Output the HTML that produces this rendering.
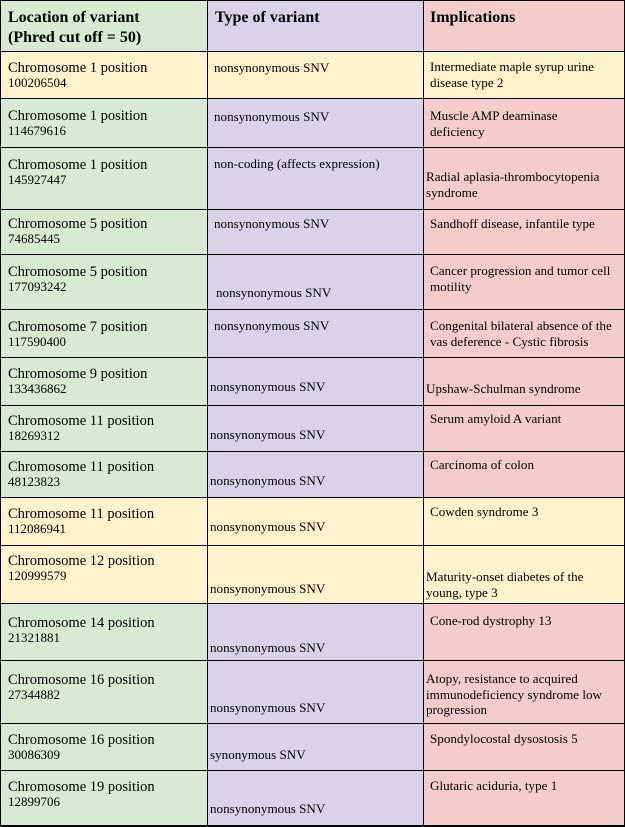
<!DOCTYPE html>
<html><head><meta charset="utf-8"><style>
body{margin:0;width:625px;height:826px;position:relative;background:#fff;font-family:"Liberation Serif",serif;color:#000;overflow:hidden}
.c{position:absolute;box-sizing:border-box;border-right:1px solid #000;border-bottom:1px solid #000}
.t{position:absolute;white-space:nowrap;line-height:16px;z-index:2}
.a{font-size:14.5px}.n{font-size:13px}.s{font-size:13.1px}.h{font-size:16px;font-weight:bold;line-height:20px}
.g{background:#d9ead3}.p{background:#d9d2e9}.r{background:#f4cccc}.y{background:#fff2cc}
</style></head><body>
<script>
const rows=[
[51,98,'y',["Chromosome 1 position","100206504",68],["nonsynonymous SNV",68,214],[["Intermediate maple syrup urine","disease type 2"],67,430]],
[98,147,'',["Chromosome 1 position","114679616",116],["nonsynonymous SNV",117,214],[["Muscle AMP deaminase","deficiency"],116,430]],
[147,209,'',["Chromosome 1 position","145927447",165],["non-coding (affects expression)",164,214],[["Radial aplasia-thrombocytopenia","syndrome"],177,426]],
[209,254,'',["Chromosome 5 position","74685445",224],["nonsynonymous SNV",224,214],[["Sandhoff disease, infantile type"],224,430]],
[254,309,'',["Chromosome 5 position","177093242",272],["nonsynonymous SNV",293,216],[["Cancer progression and tumor cell","motility"],271,430]],
[309,357,'',["Chromosome 7 position","117590400",327],["nonsynonymous SNV",326,214],[["Congenital bilateral absence of the","vas deference - Cystic fibrosis"],326,430]],
[357,405,'',["Chromosome 9 position","133436862",374],["nonsynonymous SNV",387,210],[["Upshaw-Schulman syndrome"],389,426]],
[405,451,'',["Chromosome 11 position","18269312",421],["nonsynonymous SNV",435,210],[["Serum amyloid A variant"],419,430]],
[451,497,'',["Chromosome 11 position","48123823",467],["nonsynonymous SNV",481,210],[["Carcinoma of colon"],465,430]],
[497,545,'y',["Chromosome 11 position","112086941",514],["nonsynonymous SNV",527,210],[["Cowden syndrome 3"],512,430]],
[545,603,'y',["Chromosome 12 position","120999579",561],["nonsynonymous SNV",589,210],[["Maturity-onset diabetes of the","young, type 3"],577,426]],
[603,660,'',["Chromosome 14 position","21321881",623],["nonsynonymous SNV",648,210],[["Cone-rod dystrophy 13"],621,430]],
[660,723,'',["Chromosome 16 position","27344882",680],["nonsynonymous SNV",708,210],[["Atopy, resistance to acquired","immunodeficiency syndrome low","progression"],679,426]],
[723,770,'',["Chromosome 16 position","30086309",740],["synonymous SNV",755,210],[["Spondylocostal dysostosis 5"],739,430]],
[770,826,'',["Chromosome 19 position","12899706",787],["nonsynonymous SNV",809,210],[["Glutaric aciduria, type 1"],786,430]]
];
const root=document.body;
function cell(x0,x1,y0,y1,cls,name){const d=document.createElement('div');d.className='c '+cls;d.style.left=x0+'px';d.style.top=y0+'px';d.style.width=(x1-x0+1)+'px';d.style.height=(y1-y0+1)+'px';d.style.zIndex=1;


root.appendChild(d);}
function txt(s,x,cy,cls,name){const d=document.createElement('div');d.className='t '+cls;d.textContent=s;d.style.left=x+'px';d.style.top=(cy-8)+'px';


root.appendChild(d);}
function ln(x,y,w,h){const d=document.createElement('div');d.style.cssText='position:absolute;background:#000;z-index:3;left:'+x+'px;top:'+y+'px;width:'+w+'px;height:'+h+'px';


root.appendChild(d);}
cell(0,207,0,51,'g','header-location');cell(207,423,0,51,'p','header-type');cell(423,625,0,51,'r','header-implications');
[["Location of variant",18],["(Phred cut off = 50)",38]].forEach(l=>{const d=document.createElement('div');d.className='t h';d.textContent=l[0];d.style.left='8px';d.style.top=(l[1]-10)+'px';


root.appendChild(d);});
[["Type of variant",215],["Implications",430]].forEach(l=>{const d=document.createElement('div');d.className='t h';d.textContent=l[0];d.style.left=l[1]+'px';d.style.top='8px';


root.appendChild(d);});
ln(0,0,625,1);ln(0,0,1,826);ln(207,0,1,826);ln(423,0,1,826);ln(624,0,1,826);ln(0,51,625,1);
rows.forEach((r,i)=>{const [y0,y1,bg,c1,c2,c3]=r;
cell(0,207,y0,y1,bg||'g','location-cell');cell(207,423,y0,y1,bg||'p','type-cell');cell(423,625,y0,y1,bg||'r','implication-cell');
ln(0,Math.min(y1,825),625,1);
txt(c1[0],8,c1[2],'a','location-text');txt(c1[1],8,c1[2]+15,'n','position-text');
txt(c2[0],c2[2],c2[1],'s','type-text');
c3[0].forEach((l,j)=>txt(l,c3[2],c3[1]+j*15.5,'s','implication-text'));
});
</script>
</body></html>
